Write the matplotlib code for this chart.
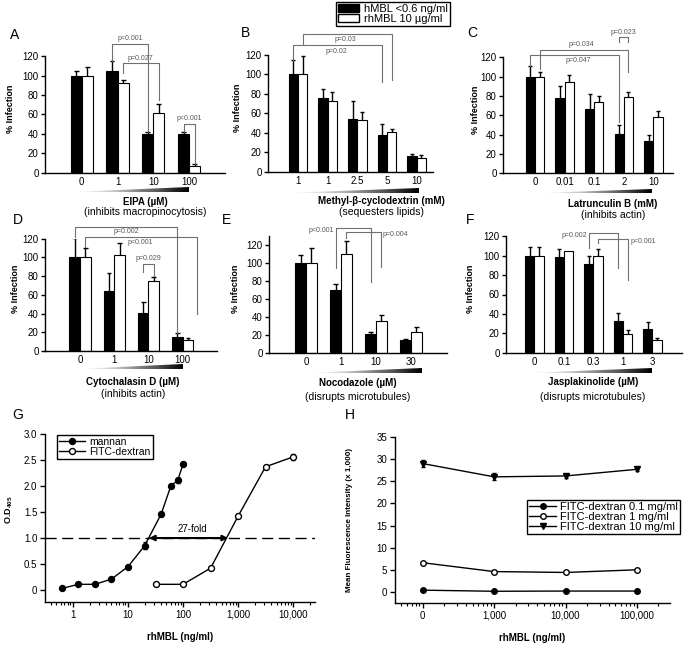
import numpy as np
import matplotlib
matplotlib.use("Agg")
import matplotlib.pyplot as plt
from matplotlib.patches import Patch, Polygon
from matplotlib.lines import Line2D
from matplotlib.ticker import FixedLocator, LogLocator, NullFormatter

plt.rcParams['font.family'] = ['Liberation Sans', 'DejaVu Sans']
plt.rcParams['mathtext.fontset'] = 'custom'
plt.rcParams['mathtext.rm'] = 'Liberation Sans'
plt.rcParams['mathtext.bf'] = 'Liberation Sans:bold'

# ---- bar panels A-F (% infection) ----
eipa_cats = ['0', '1', '10', '100']
eipa_h = [100, 105, 39.5, 39.5]
eipa_h_err = [5, 10.5, 2, 2.5]
eipa_rh = [100, 92.8, 62, 7.2]
eipa_rh_err = [9, 3.2, 9, 1.4]

mbcd_cats = ['1', '1', '2.5', '5', '10']
mbcd_h = [100, 75.5, 54, 37.8, 16.3]
mbcd_h_err = [14, 9.5, 19, 11.5, 1.7]
mbcd_rh = [100, 72.4, 52.7, 41, 14.6]
mbcd_rh_err = [19, 9.6, 8.3, 3, 2.7]

latb_cats = ['0', '0.01', '0.1', '2', '10']
latb_h = [100, 77.6, 66.6, 40.7, 33.8]
latb_h_err = [11.4, 12.7, 15.4, 9.3, 5.9]
latb_rh = [100, 94.8, 73.4, 79.3, 58]
latb_rh_err = [5, 7.2, 6.9, 4.5, 6]

cytd_cats = ['0', '1', '10', '100']
cytd_h = [100, 64.4, 40.2, 15.3]
cytd_h_err = [21, 18.6, 11.8, 3.6]
cytd_rh = [100, 103, 74.7, 11.7]
cytd_rh_err = [10.3, 12, 3.9, 1.8]

noco_cats = ['0', '1', '10', '30']
noco_h = [100, 69.6, 20.7, 14]
noco_h_err = [8.5, 6.7, 2.6, 1.2]
noco_rh = [100, 109.3, 35.2, 23.3]
noco_rh_err = [16.7, 15.1, 6.7, 5.2]

jasp_cats = ['0', '0.1', '0.3', '1', '3']
jasp_h = [100, 99, 91, 33, 24.4]
jasp_h_err = [9.3, 8.2, 8.3, 7.5, 7.2]
jasp_rh = [100, 104.8, 99.3, 19.6, 13]
jasp_rh_err = [8.6, 0, 7.9, 4.1, 2.5]

# ---- panel G: binding ELISA ----
mannan_x = [0.625, 1.25, 2.5, 5, 10, 20, 40, 60, 80, 100]
mannan_y = [0.03, 0.11, 0.11, 0.21, 0.45, 0.85, 1.46, 2.0, 2.11, 2.42]
mannan_err = [0.01, 0.01, 0.01, 0.02, 0.02, 0.07, 0.04, 0.04, 0.05, 0.02]
dextran_x = [31.6, 100, 316, 1000, 3160, 10000]
dextran_y = [0.11, 0.11, 0.42, 1.42, 2.37, 2.56]
dextran_err = [0.01, 0.01, 0.02, 0.02, 0.03, 0.06]
g_ticks = [1, 10, 100, 1000, 10000]
g_labels = ['1', '10', '100', '1,000', '10,000']

# ---- panel H: uptake ----
h_x = [100, 1000, 10000, 100000]
h_labels = ['0', '1,000', '10,000', '100,000']
fd01 = [0.4, 0.15, 0.2, 0.2]
fd1 = [6.6, 4.6, 4.4, 5.0]
fd10 = [29.0, 26.0, 26.2, 27.7]
fd10_err = [0.7, 0.8, 0.4, 0.4]

W, H = 688, 645
fig = plt.figure(figsize=(W / 100, H / 100), dpi=100)
BW = 0.31
GRAY = '#707070'


def px_axes(l, t, r, b):
    return fig.add_axes([l / W, 1 - b / H, (r - l) / W, (b - t) / H])


def ftext(x, y, s, **kw):
    fig.text(x / W, 1 - y / H, s, ha=kw.pop('ha', 'center'), va=kw.pop('va', 'center'), **kw)


def wedge(x0, x1, y0, y1):
    wa = px_axes(x0, y0, x1, y1)
    grad = np.linspace(0.05, 1, 256).reshape(1, -1)
    im = wa.imshow(grad, cmap='Greys', aspect='auto', extent=[0, 1, 0, 1], vmin=0, vmax=1)
    tri = Polygon([(0, 0), (1, 0), (1, 1), (0, 0.08)], transform=wa.transData, facecolor='none')
    wa.add_patch(tri)
    im.set_clip_path(tri)
    wa.set_xlim(0, 1)
    wa.set_ylim(0, 1)
    wa.axis('off')


def bracket(ax, xa, xb, ytop, ya, yb, label, tx, ty, ha='center', va='bottom'):
    ax.plot([xa, xa, xb, xb], [ya, ytop, ytop, yb], color=GRAY, lw=0.8, clip_on=False, zorder=4)
    ax.text(tx, ty, label, fontsize=5, color='#555555', ha=ha, va=va, clip_on=False)


def bar_panel(box, cats, hv, he, rv, re, ylim, xlim, ylab_x):
    ax = px_axes(*box)
    x = np.arange(len(cats))
    ax.bar(x - BW / 2, hv, BW, color='black', edgecolor='black', lw=0.8, zorder=2)
    ax.bar(x + BW / 2, rv, BW, color='white', edgecolor='black', lw=0.8, zorder=2)
    for xs, v, e in [(x - BW / 2, hv, he), (x + BW / 2, rv, re)]:
        v = np.array(v)
        e = np.array(e)
        m = e > 0
        ax.vlines(xs[m], v[m], v[m] + e[m], color='black', lw=1, zorder=3)
        ax.hlines(v[m] + e[m], xs[m] - BW * 0.22, xs[m] + BW * 0.22, color='black', lw=1, zorder=3)
    ax.set_xlim(*xlim)
    ax.set_ylim(*ylim)
    ax.set_yticks(range(0, 121, 20))
    ax.set_xticks(x)
    ax.set_xticklabels(cats)
    ax.tick_params(axis='y', direction='out', length=3, width=1, labelsize=7, pad=1.5)
    ax.tick_params(axis='x', length=0, labelsize=7, pad=3)
    for s in ['top', 'right']:
        ax.spines[s].set_visible(False)
    for s in ['left', 'bottom']:
        ax.spines[s].set_linewidth(1)
    ax.set_ylabel('% Infection', fontsize=6.5, fontweight='bold')
    l, t, r, b = box
    ax.yaxis.set_label_coords((ylab_x - l) / (r - l), 0.55)
    return ax


# A
ax = bar_panel((45, 56.3, 225, 172.7), eipa_cats, eipa_h, eipa_h_err, eipa_rh, eipa_rh_err,
               (0, 120), (-1.025, 4.0), 15)
bracket(ax, 1 - BW / 2, 2 - BW / 2, 132.7, 115, 42, 'p<0.001', 1.35, 134.5)
bracket(ax, 1 + BW / 2, 2 + BW / 2, 112.7, 102.4, 75, 'p=0.027', 1.65, 114.5)
bracket(ax, 3 - BW / 2, 3 + BW / 2, 50, 42, 9, 'p<0.001', 3, 52)

# B
ax = bar_panel((268, 54.6, 433, 172), mbcd_cats, mbcd_h, mbcd_h_err, mbcd_rh, mbcd_rh_err,
               (0, 120), (-1.01, 4.55), 241.7)
bracket(ax, BW / 2, 3 + BW / 2, 141, 130, 94, 'p=0.03', 1.6, 139, va='top')
bracket(ax, -BW / 2, 3 - BW / 2, 130, 114, 92, 'p=0.02', 1.3, 127, va='top')

# C
ax = bar_panel((503, 57.3, 673, 173.3), latb_cats, latb_h, latb_h_err, latb_rh, latb_rh_err,
               (0, 120), (-1.08, 4.66), 480)
bracket(ax, BW / 2, 3 + BW / 2, 127.6, 108, 104.5, 'p=0.034', 1.55, 129.5)
bracket(ax, -BW / 2, 3 - BW / 2, 122, 111, 52.7, 'p=0.047', 1.45, 120, va='top')
bracket(ax, 3 - BW / 2, 3 + BW / 2, 141, 136, 136, 'p=0.023', 3, 142.5)

# D
ax = bar_panel((45, 238.6, 217, 351), cytd_cats, cytd_h, cytd_h_err, cytd_rh, cytd_rh_err,
               (0, 120), (-1.02, 4.0), 20)
bracket(ax, -BW / 2, 3 - BW / 2, 132.7, 122, 18.9, 'p=0.002', 1.35, 131, va='top')
bracket(ax, BW / 2, 3.41, 121.5, 111, 39, 'p<0.001', 1.75, 119.5, va='top')
bracket(ax, 2 - BW / 2, 2 + BW / 2, 92.5, 84.6, 80, 'p=0.029', 2, 94.5)

# E
ax = bar_panel((269, 235.7, 447, 352.7), noco_cats, noco_h, noco_h_err, noco_rh, noco_rh_err,
               (0, 130), (-1.06, 4.03), 240)
bracket(ax, 1 - BW / 2, 2 - BW / 2, 139, 94, 79, 'p<0.001', 0.8, 136, ha='right', va='center')
bracket(ax, 1 + BW / 2, 2 + BW / 2, 133.7, 127.8, 95.6, 'p=0.004', 2.2, 131, ha='left', va='center')

# F
ax = bar_panel((506, 236.3, 682, 352.7), jasp_cats, jasp_h, jasp_h_err, jasp_rh, jasp_rh_err,
               (0, 120), (-0.96, 5.0), 475)
bracket(ax, 2 - BW / 2, 3 - BW / 2, 123, 107.6, 87.6, 'p=0.002', 1.8, 120.6, ha='right', va='center')
bracket(ax, 2 + BW / 2, 3 + BW / 2, 117, 112.7, 75, 'p<0.001', 3.25, 115, ha='left', va='center')

# wedges + axis captions
for w in [(80, 189, 187, 192), (296, 419, 188, 193), (547, 652, 189, 193),
          (85, 183, 364, 369), (315, 422, 368, 373), (535, 652, 368, 373)]:
    wedge(*w)

captions = [
    (145, 201.7, 'EIPA (µM)', 212.3, '(inhibits macropinocytosis)'),
    (381.7, 200.7, 'Methyl-β-cyclodextrin (mM)', 212.3, '(sequesters lipids)'),
    (613, 204.3, 'Latrunculin B (mM)', 215, '(inhibits actin)'),
    (133, 381.7, 'Cytochalasin D (µM)', 394, '(inhibits actin)'),
    (358, 383.3, 'Nocodazole (µM)', 396.7, '(disrupts microtubules)'),
    (593, 382.3, 'Jasplakinolide (µM)', 396.7, '(disrupts microtubules)'),
]
for cx, y1, t1, y2, t2 in captions:
    ftext(cx, y1, t1, fontsize=7, fontweight='bold')
    ftext(cx, y2, t2, fontsize=7.5)

for lx, ly, s in [(15, 35, 'A'), (245, 33, 'B'), (472, 33, 'C'), (18, 220, 'D'),
                  (227, 220, 'E'), (470, 220, 'F'), (18, 415, 'G'), (350, 415, 'H')]:
    ftext(lx, ly, s, fontsize=10)

fig.legend(handles=[Patch(facecolor='black', edgecolor='black'),
                    Patch(facecolor='white', edgecolor='black')],
           labels=['hMBL <0.6 ng/ml', 'rhMBL 10 µg/ml'],
           loc='upper left', bbox_to_anchor=(336 / W, 1 - 1.5 / H), borderaxespad=0,
           fontsize=8, handlelength=1.9, handleheight=0.7, labelspacing=0.0,
           borderpad=0.2, handletextpad=0.4, fancybox=False, edgecolor='black', framealpha=1)


def prism(ax):
    for s in ['top', 'right']:
        ax.spines[s].set_visible(False)
    for s in ['left', 'bottom']:
        ax.spines[s].set_linewidth(1)
    ax.tick_params(which='major', direction='out', length=3.5, width=1, labelsize=7, pad=2)
    ax.tick_params(which='minor', direction='out', length=2, width=0.8)


# G
ax = px_axes(45, 434, 315, 602)
ax.set_xscale('log')
ax.axhline(1.0, color='black', lw=1, dashes=(8, 4), zorder=1)
ax.errorbar(mannan_x, mannan_y, yerr=mannan_err, color='black', marker='o', ms=4.3, lw=1,
            mfc='black', mec='black', capsize=1.5, elinewidth=1, label='mannan', zorder=3)
ax.errorbar(dextran_x, dextran_y, yerr=dextran_err, color='black', marker='o', ms=4.3, lw=1,
            mfc='white', mec='black', mew=1, capsize=1.5, elinewidth=1, label='FITC-dextran', zorder=3)
ax.annotate('', xy=(24, 1.0), xytext=(660, 1.0),
            arrowprops=dict(arrowstyle='<|-|>', color='black', lw=1.5, mutation_scale=8, shrinkA=0, shrinkB=0))
ax.text(150, 1.07, '27-fold', fontsize=7, ha='center', va='bottom')
ax.set_xlim(0.31, 25000)
ax.set_ylim(-0.23, 3.0)
ax.set_yticks([0, 0.5, 1.0, 1.5, 2.0, 2.5, 3.0])
ax.set_yticklabels(['0', '0.5', '1.0', '1.5', '2.0', '2.5', '3.0'])
ax.xaxis.set_major_locator(FixedLocator(g_ticks))
ax.set_xticklabels(g_labels)
ax.xaxis.set_minor_locator(LogLocator(base=10, subs=np.arange(2, 10), numticks=20))
ax.xaxis.set_minor_formatter(NullFormatter())
prism(ax)
ax.set_xlabel('rhMBL (ng/ml)', fontsize=7, fontweight='bold', labelpad=9)
ax.set_ylabel(r'O.D$_{\mathbf{405}}$', fontsize=6.5, fontweight='bold')
ax.yaxis.set_label_coords((15 - 45) / 270, 0.55)
ax.legend(handles=[Line2D([], [], color='black', marker='o', ms=4.3, mfc='black', lw=1),
                   Line2D([], [], color='black', marker='o', ms=4.3, mfc='white', lw=1)],
          labels=['mannan', 'FITC-dextran'], loc='upper left', bbox_to_anchor=(0.044, 0.995),
          borderaxespad=0, fontsize=7.5, handlelength=2.5, labelspacing=0.0, borderpad=0.2,
          handletextpad=0.4, fancybox=False, edgecolor='black', framealpha=1)

# H
ax = px_axes(395, 437, 670, 603)
ax.set_xscale('log')
ax.plot(h_x, fd01, color='black', marker='o', ms=4, mfc='black', lw=1)
ax.plot(h_x, fd1, color='black', marker='o', ms=4, mfc='white', mew=1, lw=1)
ax.errorbar(h_x, fd10, yerr=fd10_err, color='black', marker='v', ms=4.5, lw=1, capsize=1.5, elinewidth=1)
ax.set_xlim(41, 290000)
ax.set_ylim(-2.5, 35)
ax.set_yticks(range(0, 36, 5))
ax.xaxis.set_major_locator(FixedLocator(h_x))
ax.set_xticklabels(h_labels)
ax.xaxis.set_minor_locator(LogLocator(base=10, subs=np.arange(2, 10), numticks=20))
ax.xaxis.set_minor_formatter(NullFormatter())
prism(ax)
ax.set_xlabel('rhMBL (ng/ml)', fontsize=7, fontweight='bold', labelpad=9)
ax.set_ylabel('Mean Fluorescence Intensity (x 1,000)', fontsize=5.8, fontweight='bold')
ax.yaxis.set_label_coords((353 - 395) / 275, 0.5)
ax.legend(handles=[Line2D([], [], color='black', marker='o', ms=4, mfc='black', lw=1),
                   Line2D([], [], color='black', marker='o', ms=4, mfc='white', lw=1),
                   Line2D([], [], color='black', marker='v', ms=4.5, lw=1)],
          labels=['FITC-dextran 0.1 mg/ml', 'FITC-dextran 1 mg/ml', 'FITC-dextran 10 mg/ml'],
          loc='upper left', bbox_to_anchor=((527 - 395) / 275, 1 - (500 - 437) / 166),
          borderaxespad=0, fontsize=8, handlelength=2.4, labelspacing=0.0, borderpad=0.2,
          handletextpad=0.4, fancybox=False, edgecolor='black', framealpha=1)

fig.savefig('out.png', dpi=100)
